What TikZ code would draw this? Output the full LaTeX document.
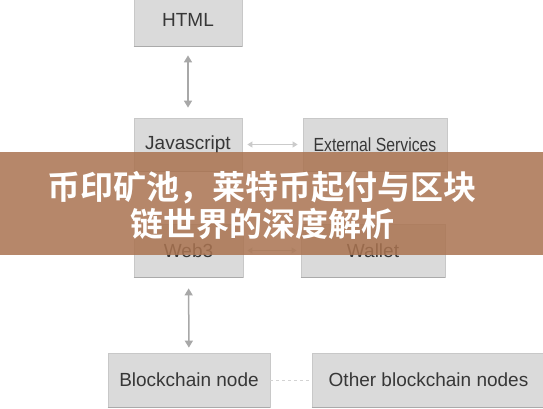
\documentclass[tikz,border=0pt]{standalone}
\usepackage{graphicx}
\usepackage{fontspec}
\setmainfont{Liberation Sans}
\newfontfamily\cjk{Noto Sans CJK SC}[BoldFont={Noto Sans CJK SC Bold}]
\usetikzlibrary{arrows.meta}
\definecolor{boxgray}{RGB}{218,218,218}
\definecolor{boxedge}{RGB}{200,200,200}
\definecolor{boxshade}{RGB}{170,170,170}
\definecolor{boxtext}{RGB}{55,55,55}
\definecolor{linkgray}{RGB}{168,168,168}
\definecolor{bannerbrown}{RGB}{170,115,80}
\tikzset{
  block/.style={rectangle,fill=boxgray,draw=boxedge,line width=0.8pt,text=boxtext,
    font=\fontsize{19}{22}\selectfont,inner sep=0pt},
  link/.style={draw=linkgray,line width=1.5pt,{Triangle[width=8pt,length=7pt]}-{Triangle[width=8pt,length=7pt]}},
  thinlink/.style={draw=linkgray!60,line width=1pt,{Triangle[width=6pt,length=5pt]}-{Triangle[width=6pt,length=5pt]}},
  peer/.style={draw=linkgray!50,line width=1pt,dashed}
}
\begin{document}
\begin{tikzpicture}[x=1pt,y=-1pt]
\useasboundingbox (0,0) rectangle (543,408);
\fill[white] (0,0) rectangle (543,408);
\node[block,minimum width=108pt,minimum height=53pt] (html) at (188,19.5) {HTML};
\node[block,minimum width=108pt,minimum height=53pt] (js) at (188,144.5) {Javascript};
\node[block,minimum width=144pt,minimum height=53pt] (ext) at (375,144.5) {\scalebox{0.83}[1]{External Services}};
\node[block,minimum width=109pt,minimum height=53pt] (web3) at (188.5,250.5) {Web3};
\node[block,minimum width=144pt,minimum height=53pt] (wallet) at (373,250.5) {Wallet};
\node[block,minimum width=162pt,minimum height=54pt] (bc) at (189,380) {Blockchain node};
\node[block,minimum width=233pt,minimum height=54pt] (other) at (428.5,380) {Other blockchain nodes};
\foreach \n in {html,js,ext,web3,wallet,bc,other}
  \draw[boxshade,line width=1.5pt] (\n.south west) -- (\n.south east);
\draw[link,shorten <=9pt,shorten >=10pt] (html) -- (js);
\draw[link,shorten <=11pt,shorten >=5pt] (web3) -- (bc);
\draw[thinlink,shorten <=5pt,shorten >=5pt] (js) -- (ext);
\draw[thinlink,shorten <=4pt,shorten >=4pt] (web3) -- (wallet);
\draw[peer] (bc) -- (other);
\fill[bannerbrown,opacity=0.85] (0,152) rectangle (543,255);
\node[text=white,align=center,font=\cjk\bfseries\fontsize{33}{37}\selectfont] (title) at (262,206)
  {币印矿池，莱特币起付与区块\\链世界的深度解析};
\end{tikzpicture}
\end{document}
